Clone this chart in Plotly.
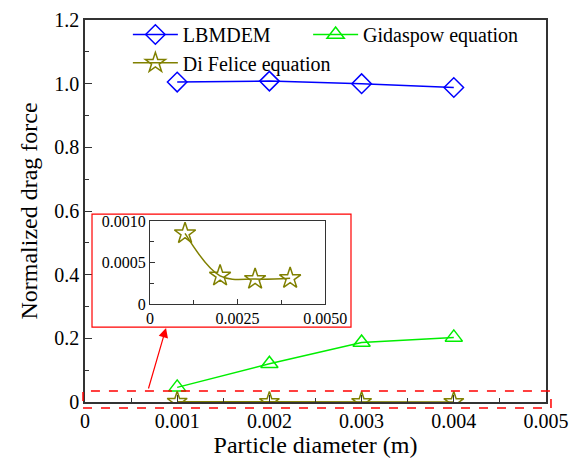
import plotly.graph_objects as go

diameter = [0.001, 0.002, 0.003, 0.004]
lbmdem = [1.005, 1.008, 1.000, 0.988]
gidaspow = [0.046, 0.120, 0.187, 0.203]
difelice = [0.00085, 0.00034, 0.00030, 0.00031]

x_ticks = [0, 0.001, 0.002, 0.003, 0.004, 0.005]
x_ticktext = ["0", "0.001", "0.002", "0.003", "0.004", "0.005"]
y_ticks = [0, 0.2, 0.4, 0.6, 0.8, 1.0, 1.2]
y_ticktext = ["0", "0.2", "0.4", "0.6", "0.8", "1.0", "1.2"]
ix_ticks = [0, 0.0025, 0.005]
ix_ticktext = ["0", "0.0025", "0.0050"]
iy_ticks = [0, 0.0005, 0.001]
iy_ticktext = ["0", "0.0005", "0.0010"]

FONT = "Liberation Serif, Times New Roman, serif"
AX = "#333333"
OLIVE = "#808000"

fig = go.Figure()
fig.add_trace(go.Scatter(x=diameter, y=lbmdem, name="LBMDEM", mode="lines+markers", legend="legend",
                         line=dict(color="#0000FF", width=1.5),
                         marker=dict(symbol="diamond-open", size=15, color="#0000FF", line=dict(width=1.5))))
fig.add_trace(go.Scatter(x=diameter, y=gidaspow, name="Gidaspow equation", mode="lines+markers", legend="legend2",
                         line=dict(color="#00EE00", width=1.5),
                         marker=dict(symbol="triangle-up-open", size=15, color="#00EE00", line=dict(width=1.5))))
fig.add_trace(go.Scatter(x=diameter, y=difelice, name="Di Felice equation", mode="lines+markers", legend="legend3",
                         line=dict(color=OLIVE, width=1.5),
                         marker=dict(symbol="star-open", size=15, color=OLIVE, line=dict(width=1.5))))
fig.add_trace(go.Scatter(x=diameter, y=difelice, mode="lines+markers", showlegend=False,
                         xaxis="x2", yaxis="y2", line=dict(color=OLIVE, width=1.5, shape="spline"),
                         marker=dict(symbol="star-open", size=16, color=OLIVE, line=dict(width=1.5))))

leg = dict(orientation="v", xanchor="left", yanchor="top", bgcolor="rgba(0,0,0,0)",
           font=dict(size=20, family=FONT), itemwidth=45)

fig.update_layout(
    width=571, height=458,
    margin=dict(l=85, r=25, t=20, b=56),
    paper_bgcolor="white", plot_bgcolor="white",
    font=dict(family=FONT, size=20, color="black"),
    xaxis=dict(range=[0, 0.005], tickvals=x_ticks, ticktext=x_ticktext, ticks="inside", ticklen=7,
               tickcolor=AX, showline=True, linecolor=AX, linewidth=1.5, mirror=True, showgrid=False,
               zeroline=False, minor=dict(dtick=0.0005, ticks="inside", ticklen=4, tickcolor=AX),
               title=dict(text="Particle diameter (m)", standoff=2),
               tickfont=dict(size=20), automargin=False),
    yaxis=dict(range=[0, 1.2], tickvals=y_ticks, ticktext=y_ticktext, ticks="inside", ticklen=7,
               tickcolor=AX, showline=True, linecolor=AX, linewidth=1.5, mirror=True, showgrid=False,
               zeroline=False, minor=dict(dtick=0.1, ticks="inside", ticklen=4, tickcolor=AX),
               title=dict(text="Normalized drag force", standoff=10),
               tickfont=dict(size=20), automargin=False),
    xaxis2=dict(domain=[0.141, 0.521], anchor="y2", range=[0, 0.005], tickvals=ix_ticks,
                ticktext=ix_ticktext, ticks="inside", ticklen=5, tickcolor=AX, showline=True,
                linecolor=AX, linewidth=1.2, mirror=True, showgrid=False, zeroline=False,
                minor=dict(dtick=0.00125, ticks="inside", ticklen=4, tickcolor=AX),
                tickfont=dict(size=16), automargin=False),
    yaxis2=dict(domain=[0.2565, 0.4738], anchor="x2", range=[0, 0.001], tickvals=iy_ticks,
                ticktext=iy_ticktext, ticks="inside", ticklen=5, tickcolor=AX, showline=True,
                linecolor=AX, linewidth=1.2, mirror=True, showgrid=False, zeroline=False,
                minor=dict(dtick=0.00025, ticks="inside", ticklen=4, tickcolor=AX),
                tickfont=dict(size=16), automargin=False),
    legend=dict(leg, x=0.093, y=1.013),
    legend2=dict(leg, x=0.484, y=1.013),
    legend3=dict(leg, x=0.093, y=0.939),
    showlegend=True,
)

fig.add_shape(type="rect", xref="paper", yref="paper", x0=0.0152, x1=0.577, y0=0.196, y1=0.492,
              line=dict(color="red", width=1.2))
fig.add_shape(type="rect", xref="paper", yref="paper", x0=-0.0043, x1=1.0108, y0=-0.0157, y1=0.0288,
              line=dict(color="red", width=1.5, dash="dash"))
fig.add_annotation(x=0.000879, y=0.2325, xref="x", yref="y", ax=-18, ay=62, axref="pixel", ayref="pixel",
                   text="", showarrow=True, arrowhead=2, arrowsize=1.6, arrowwidth=1.2,
                   arrowcolor="red")

fig.write_html("out.html")
